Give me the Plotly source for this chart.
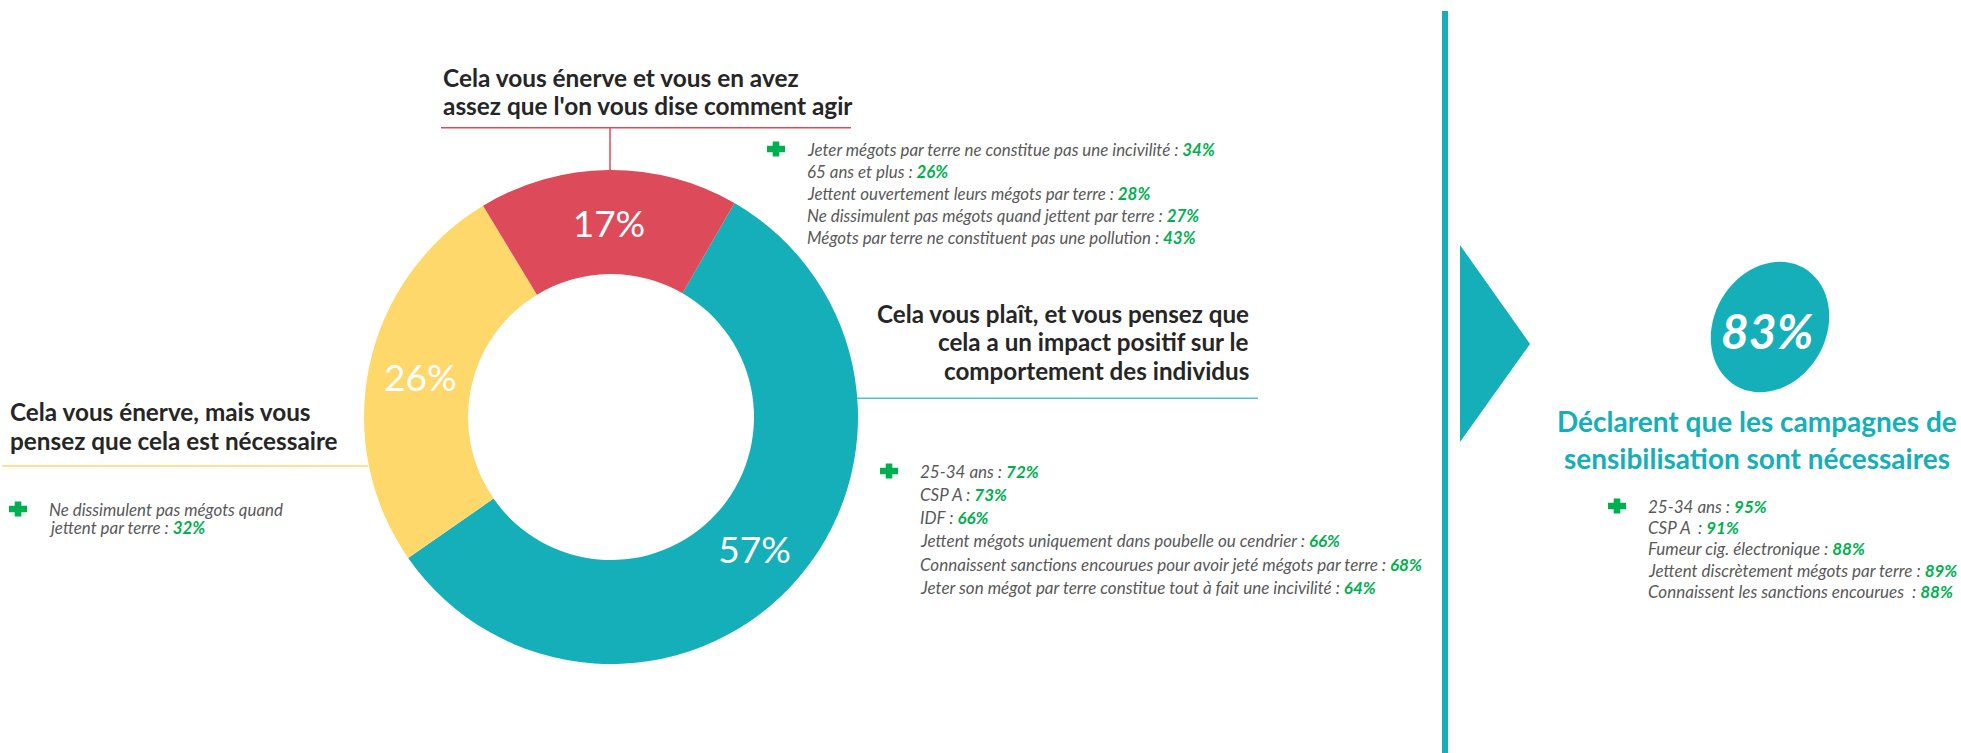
import numpy as np
import plotly.graph_objects as go

W, H = 1961, 753

# Reactions to anti-littering campaigns (share of respondents, %)
segments = [
    "Cela vous plaît, et vous pensez que cela a un impact positif sur le comportement des individus",
    "Cela vous énerve, mais vous pensez que cela est nécessaire",
    "Cela vous énerve et vous en avez assez que l'on vous dise comment agir",
]
shares = [57, 26, 17]
seg_colors = ["#14AFB8", "#FED86A", "#DD4B5A"]

# Over-represented groups for each segment
plait_labels = [
    "25-34 ans",
    "CSP A",
    "IDF",
    "Jettent mégots uniquement dans poubelle ou cendrier",
    "Connaissent sanctions encourues pour avoir jeté mégots par terre",
    "Jeter son mégot par terre constitue tout à fait une incivilité",
]
plait_values = [72, 73, 66, 66, 68, 64]

necessaire_labels = ["Ne dissimulent pas mégots quand\njettent par terre"]
necessaire_values = [32]

agace_labels = [
    "Jeter mégots par terre ne constitue pas une incivilité",
    "65 ans et plus",
    "Jettent ouvertement leurs mégots par terre",
    "Ne dissimulent pas mégots quand jettent par terre",
    "Mégots par terre ne constituent pas une pollution",
]
agace_values = [34, 26, 28, 27, 43]

# Campaigns judged necessary
campagne_share = 83
campagne_title = ["Déclarent que les campagnes de", "sensibilisation sont nécessaires"]
campagne_labels = [
    "25-34 ans",
    "CSP A&nbsp;",
    "Fumeur cig. électronique",
    "Jettent discrètement mégots par terre",
    "Connaissent les sanctions encourues&nbsp;",
]
campagne_values = [95, 91, 88, 89, 88]

TEAL, YELLOW, RED = seg_colors
GREEN = "#00B050"
GREY = "#595959"
DARK = "#262626"
FONT = "Lato"

# donut geometry in pixels
CX, CY, R_OUT, R_IN = 611, 417, 247, 143

fig = go.Figure()
fig.add_trace(go.Pie(
    labels=segments,
    values=shares,
    marker=dict(colors=seg_colors, line=dict(width=0)),
    hole=R_IN / R_OUT,
    sort=False,
    direction="clockwise",
    rotation=30,
    texttemplate="%{value}%",
    textposition="inside",
    insidetextorientation="horizontal",
    textfont=dict(color="white", size=37, family=FONT),
    domain=dict(x=[(CX - R_OUT) / W, (CX + R_OUT) / W],
                y=[1 - (CY + R_OUT) / H, 1 - (CY - R_OUT) / H]),
    hoverinfo="skip",
    showlegend=False,
))

shapes = []
annotations = []


def line(x0, y0, x1, y1, color, width):
    shapes.append(dict(type="line", xref="x", yref="y", x0=x0, y0=y0, x1=x1, y1=y1,
                       line=dict(color=color, width=width)))


def cross(cx, cy, hw=9, hh=7.5, t=3.3):
    pts = [(cx - t, cy - hh), (cx + t, cy - hh), (cx + t, cy - t), (cx + hw, cy - t),
           (cx + hw, cy + t), (cx + t, cy + t), (cx + t, cy + hh), (cx - t, cy + hh),
           (cx - t, cy + t), (cx - hw, cy + t), (cx - hw, cy - t), (cx - t, cy - t)]
    path = "M " + " L ".join(f"{x},{y}" for x, y in pts) + " Z"
    shapes.append(dict(type="path", xref="x", yref="y", path=path,
                       fillcolor=GREEN, line=dict(width=0)))


def text(x, y, s, size, color, anchor="left", bold=False, italic=False):
    if bold:
        s = f"<b>{s}</b>"
    if italic:
        s = f"<i>{s}</i>"
    annotations.append(dict(xref="x", yref="y", x=x, y=y, text=s, showarrow=False,
                            xanchor=anchor, yanchor="middle", align=anchor,
                            font=dict(family=FONT, size=size, color=color)))


def stat_lines(x, y0, step, labels, values, size):
    rows = []
    for lab, val in zip(labels, values):
        parts = lab.split("\n")
        parts[-1] = f"{parts[-1]} : <span style='color:{GREEN}'><b>{val}%</b></span>"
        rows.extend(parts)
    for i, r in enumerate(rows):
        text(x, y0 + i * step, r, size, GREY, italic=True)
    cross(x - 29, y0)


# --- top segment (red) ---
for i, s in enumerate(["Cela vous énerve et vous en avez", "assez que l'on vous dise comment agir"]):
    text(441, 77 + i * 28.3, s, 24.4, DARK, bold=True)
line(441, 127.7, 851, 127.7, RED, 1.5)
line(610, 127.7, 610, CY - R_OUT, RED, 1.5)
stat_lines(805, 149, 22, agace_labels, agace_values, 16.9)

# --- right segment (teal) ---
for i, s in enumerate(["Cela vous plaît, et vous pensez que", "cela a un impact positif sur le",
                       "comportement des individus"]):
    text(1251, 313.5 + i * 28.3, s, 24.2, DARK, anchor="right", bold=True)
line(CX + R_OUT - 1, 398.3, 1258, 398.3, "#4FC3CB", 1.5)
stat_lines(918, 471, 23.3, plait_labels, plait_values, 17)

# --- left segment (yellow) ---
for i, s in enumerate(["Cela vous énerve, mais vous", "pensez que cela est nécessaire"]):
    text(8, 411 + i * 29, s, 24.3, DARK, bold=True)
line(2, 466, CX - R_OUT + 4, 466, YELLOW, 1.5)
stat_lines(47, 509, 18.5, necessaire_labels, necessaire_values, 16.9)

# --- right panel: campaigns judged necessary ---
line(1445, 11, 1445, H, TEAL, 6)
shapes.append(dict(type="path", xref="x", yref="y", path="M 1460,245 L 1530,344 L 1460,442 Z",
                   fillcolor=TEAL, line=dict(width=0)))
t = np.linspace(0, 2 * np.pi, 73)
th = np.deg2rad(60)
ex = 1770 + 68 * np.cos(t) * np.cos(th) - 56 * np.sin(t) * np.sin(th)
ey = 327 - (68 * np.cos(t) * np.sin(th) + 56 * np.sin(t) * np.cos(th))
shapes.append(dict(type="path", xref="x", yref="y",
                   path="M " + " L ".join(f"{a:.1f},{b:.1f}" for a, b in zip(ex, ey)) + " Z",
                   fillcolor=TEAL, line=dict(width=0)))
text(1767, 330, f"{campagne_share}%", 48, "white", anchor="center", bold=True, italic=True)
for i, s in enumerate(campagne_title):
    text(1757, 421 + i * 37, s, 28, TEAL, anchor="center", bold=True)
stat_lines(1646, 506, 21.4, campagne_labels, campagne_values, 17)

fig.update_layout(
    width=W, height=H,
    margin=dict(l=0, r=0, t=0, b=0),
    paper_bgcolor="white", plot_bgcolor="white",
    xaxis=dict(range=[0, W], visible=False, fixedrange=True),
    yaxis=dict(range=[H, 0], visible=False, fixedrange=True),
    shapes=shapes,
    annotations=annotations,
    showlegend=False,
)

fig.write_html("out.html")
